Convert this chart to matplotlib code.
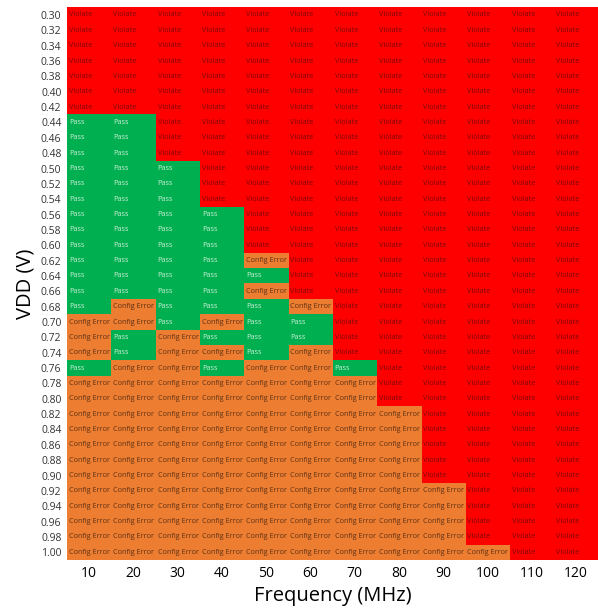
import numpy as np
import matplotlib.pyplot as plt
from matplotlib.colors import ListedColormap

plt.rcParams['font.family'] = ['Open Sans', 'DejaVu Sans']

freqs = [10, 20, 30, 40, 50, 60, 70, 80, 90, 100, 110, 120]
vdds = ["0.30", "0.32", "0.34", "0.36", "0.38", "0.40", "0.42", "0.44", "0.46",
        "0.48", "0.50", "0.52", "0.54", "0.56", "0.58", "0.60", "0.62", "0.64",
        "0.66", "0.68", "0.70", "0.72", "0.74", "0.76", "0.78", "0.80", "0.82",
        "0.84", "0.86", "0.88", "0.90", "0.92", "0.94", "0.96", "0.98", "1.00"]

# P = Pass, C = Config Error, V = Violate, one string per VDD row
results = [
    "VVVVVVVVVVVV", "VVVVVVVVVVVV", "VVVVVVVVVVVV", "VVVVVVVVVVVV",
    "VVVVVVVVVVVV", "VVVVVVVVVVVV", "VVVVVVVVVVVV",
    "PPVVVVVVVVVV", "PPVVVVVVVVVV", "PPVVVVVVVVVV",
    "PPPVVVVVVVVV", "PPPVVVVVVVVV", "PPPVVVVVVVVV",
    "PPPPVVVVVVVV", "PPPPVVVVVVVV", "PPPPVVVVVVVV",
    "PPPPCVVVVVVV", "PPPPPVVVVVVV", "PPPPCVVVVVVV",
    "PCPPPCVVVVVV", "CCPCPPVVVVVV", "CPCPPPVVVVVV",
    "CPCCPCVVVVVV", "PCCPCCPVVVVV", "CCCCCCCVVVVV",
    "CCCCCCCVVVVV", "CCCCCCCCVVVV", "CCCCCCCCVVVV",
    "CCCCCCCCVVVV", "CCCCCCCCVVVV", "CCCCCCCCVVVV",
    "CCCCCCCCCVVV", "CCCCCCCCCVVV", "CCCCCCCCCVVV",
    "CCCCCCCCCVVV", "CCCCCCCCCCVV",
]

labels = {"P": "Pass", "C": "Config Error", "V": "Violate"}
codes = {"P": 0, "C": 1, "V": 2}
fill = ["#00B050", "#ED7D31", "#FF0000"]
ink = ["#CDEFD6", "#5E3216", "#7A0808"]

grid = np.array([[codes[c] for c in row] for row in results])

fig = plt.figure(figsize=(5.98, 6.10), dpi=100)
ax = fig.add_axes([0.112, 0.082, 0.888, 0.906])
ax.imshow(grid, cmap=ListedColormap(fill), vmin=-0.5, vmax=2.5,
          aspect="auto", interpolation="nearest")

# cell captions, left aligned inside each cell
for i, row in enumerate(results):
    for j, c in enumerate(row):
        ax.text(j - 0.45, i, labels[c], ha="left", va="center",
                fontsize=5.2, color=ink[codes[c]])

ax.set_xticks(range(len(freqs)))
ax.set_xticklabels(freqs, fontsize=10)
ax.set_yticks(range(len(vdds)))
ax.set_yticklabels(vdds, fontsize=7.5, color="#333333")
ax.tick_params(length=0, pad=4)
ax.set_xlabel("Frequency (MHz)", fontsize=14.5)
ax.set_ylabel("VDD (V)", fontsize=14.5, labelpad=4)
for s in ax.spines.values():
    s.set_visible(False)

fig.savefig("out.png", dpi=100)
